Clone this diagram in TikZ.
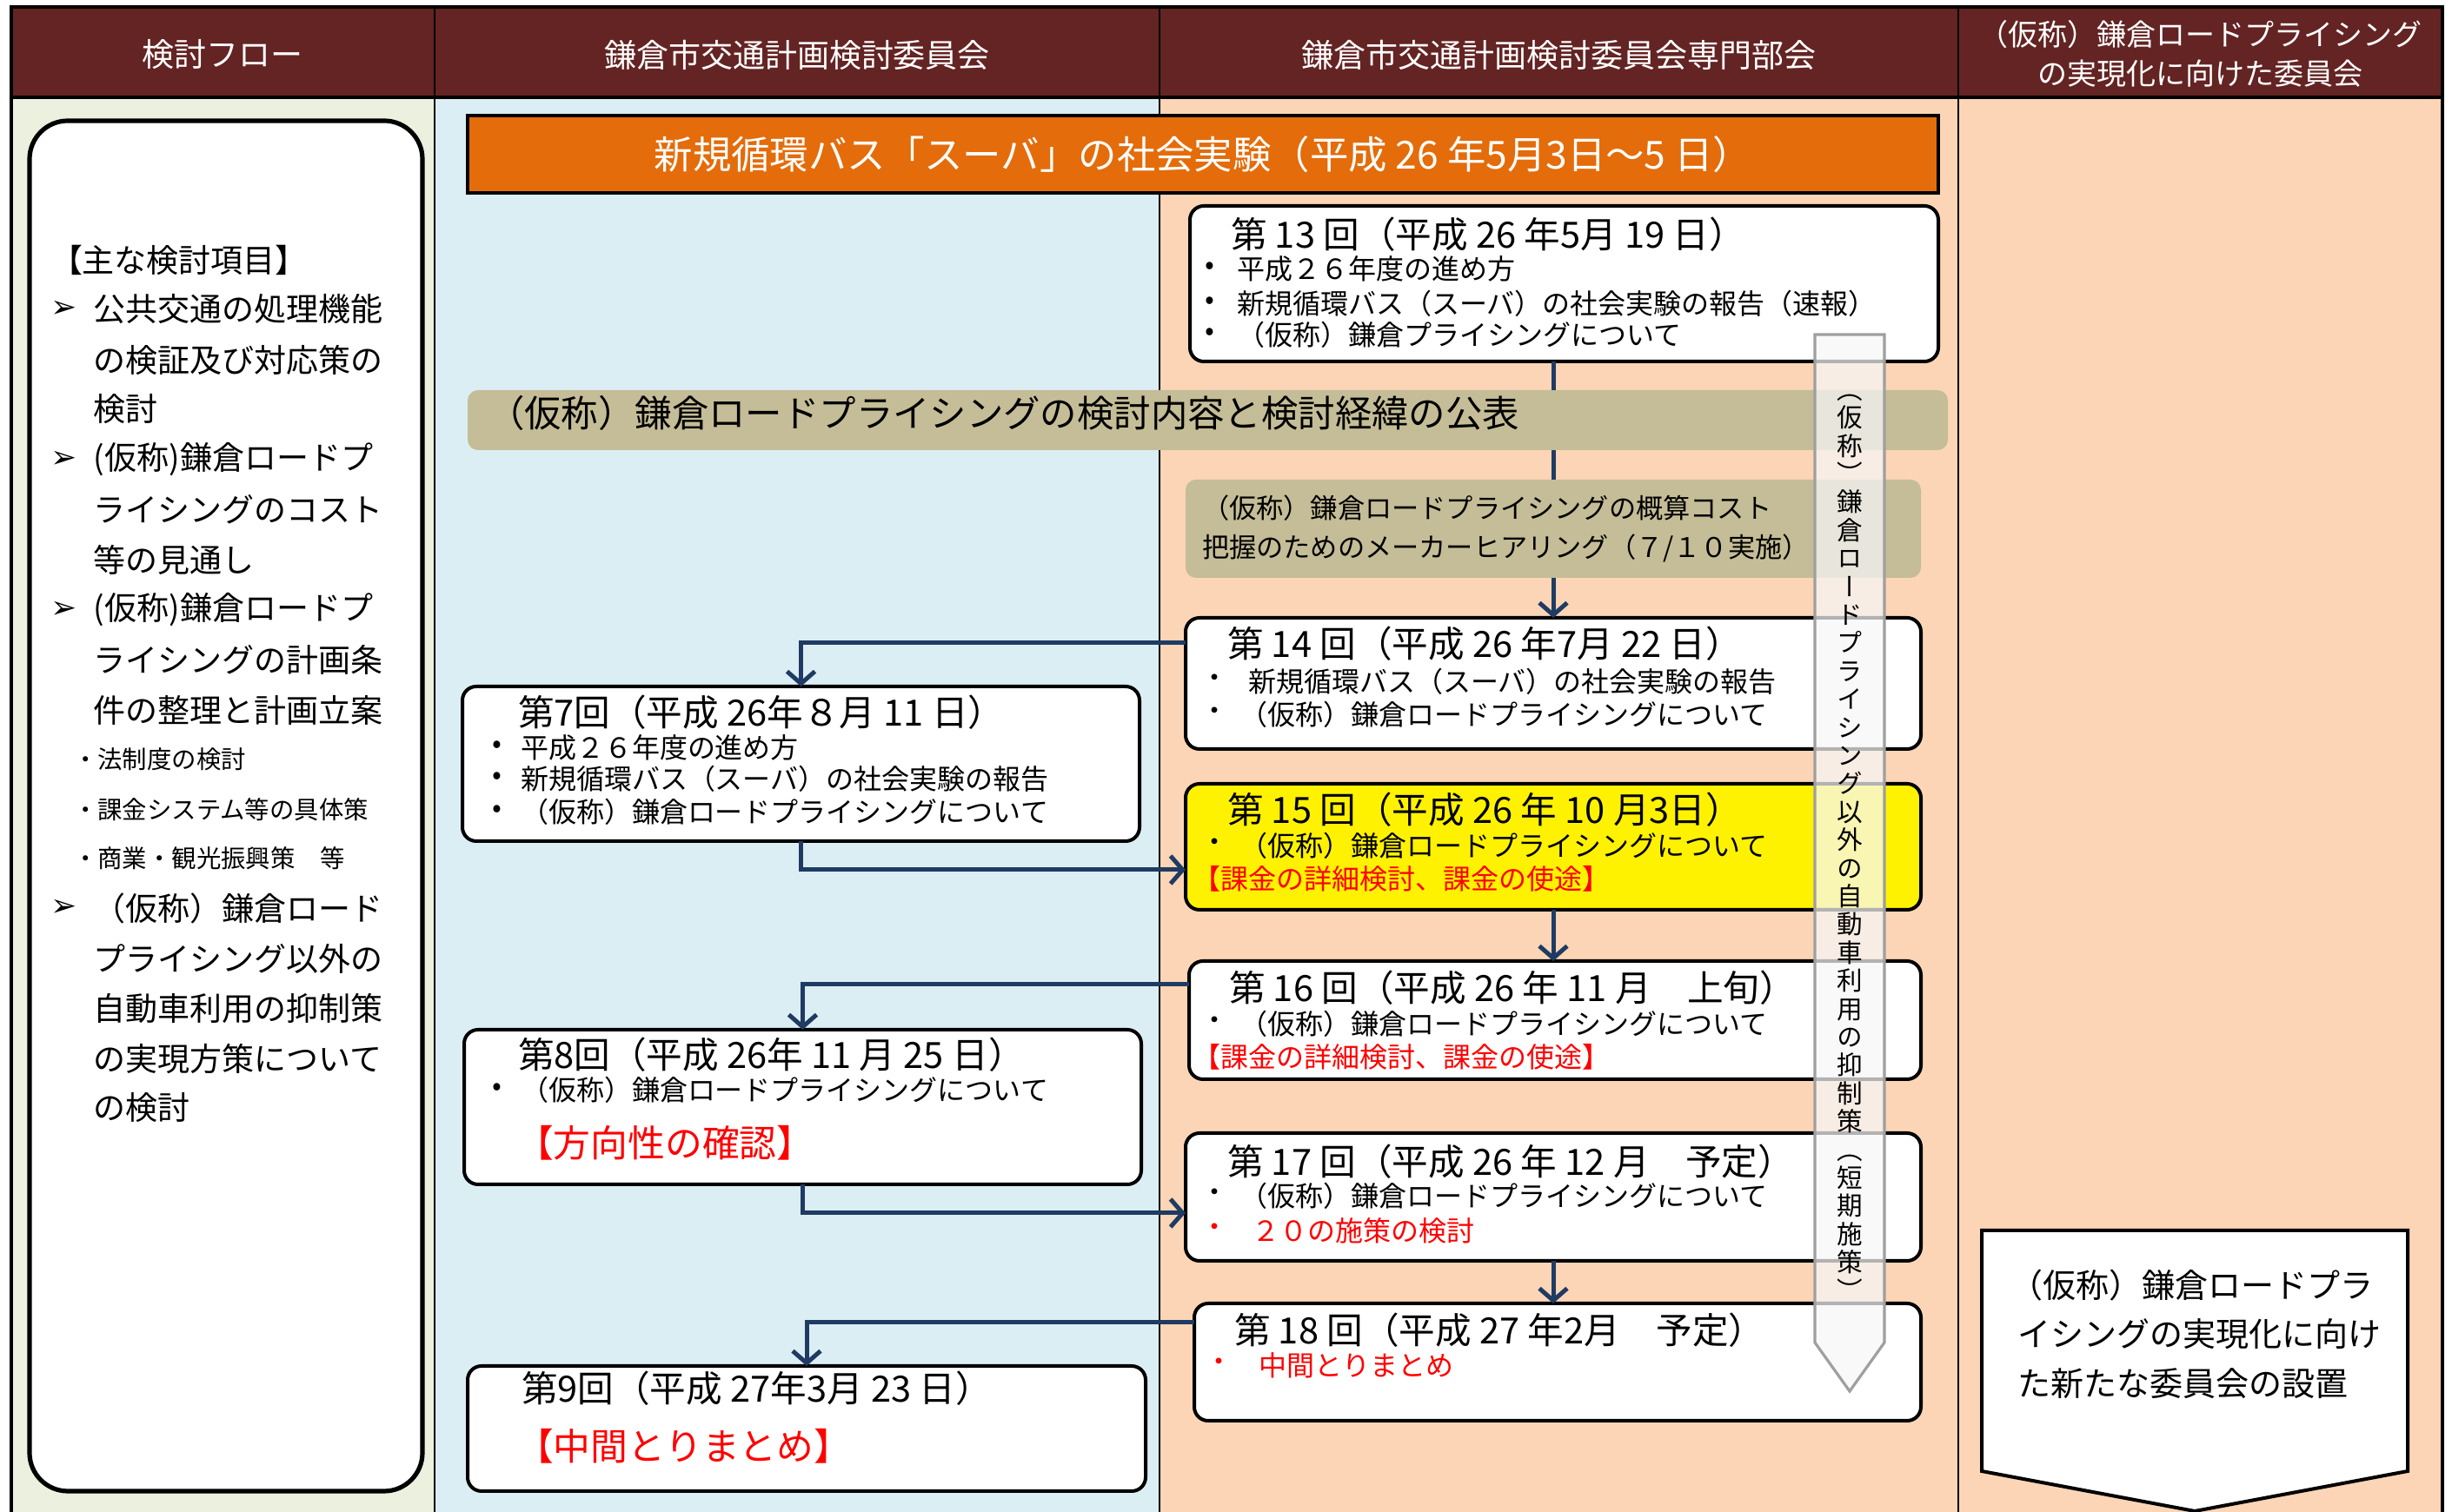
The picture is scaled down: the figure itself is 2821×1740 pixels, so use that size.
\documentclass[tikz,border=0pt]{standalone}
\usepackage{fontspec}
\setmainfont{Noto Sans CJK JP}
\newfontfamily\vfont{Noto Sans CJK JP}[RawFeature=+vert]
\newfontfamily\symfont{DejaVu Sans}
\usetikzlibrary{arrows.meta,calc}
\definecolor{hdr}{HTML}{632423}
\definecolor{cgreen}{HTML}{EBF1DE}
\definecolor{cblue}{HTML}{DBEEF4}
\definecolor{cpeach}{HTML}{FBD5B5}
\definecolor{orng}{HTML}{E46C0A}
\definecolor{tan}{HTML}{C4BD97}
\definecolor{navy}{HTML}{1F3B63}
\definecolor{redt}{HTML}{FF0000}
\newcommand\mkbox[7]{\node[#6, inner sep=0pt, outer sep=0pt, minimum width={(#4-#2)*0.25}, minimum height={(#5-#3)*0.25}] (#1) at ({(#2+#4)/2},{(#3+#5)/2}) {#7};}
\begin{document}
\begin{tikzpicture}[x=0.25pt,y=-0.25pt,
  txt/.style={inner sep=0pt, outer sep=0pt, anchor=west},
  hd/.style={text=white, font=\fontsize{9.25}{11.5}\selectfont, align=center, inner sep=0pt},
  ttl/.style={txt, font=\fontsize{10.4}{11}\selectfont},
  itm/.style={txt, font=\fontsize{8}{9}\selectfont},
  bigred/.style={txt, text=redt, font=\fontsize{10.7}{12}\selectfont},
  redtxt/.style={text=redt},
  lt/.style={txt, font=\fontsize{9.25}{10}\selectfont},
  lsub/.style={txt, font=\fontsize{7.1}{8}\selectfont},
  arw/.style={inner sep=0pt, font=\symfont\fontsize{9}{10}\selectfont},
  rbox/.style={draw=black, line width=1pt, fill=white, rounded corners=4pt},
  tanbox/.style={fill=tan, rounded corners=3pt},
  cline/.style={draw=navy, line width=1.25pt},
  conn/.style={cline, -{Straight Barb[length=3.5pt,width=8pt,line width=1.25pt]}}
]
\useasboundingbox (0,0) rectangle (2821,1740);
% backgrounds
\fill[cgreen] (13,112) rectangle (500,1740);
\fill[cblue] (500,112) rectangle (1334,1740);
\fill[cpeach] (1334,112) rectangle (2810,1740);
\fill[hdr] (13,8) rectangle (2810,112);
\draw[line width=0.5pt] (500,8) -- (500,1740);
\draw[line width=0.5pt] (1334,8) -- (1334,1740);
\draw[line width=0.5pt] (2253,8) -- (2253,1740);
\draw[line width=0.9pt] (13,1740) -- (13,8) -- (2810,8) -- (2810,1740);
\draw[line width=1pt] (13,112) -- (2810,112);
% headers
\node[hd] (h1) at (256,63) {検討フロー};
\node[hd] (h2) at (917,63) {鎌倉市交通計画検討委員会};
\node[hd] (h3) at (1793,63) {鎌倉市交通計画検討委員会専門部会};
\node[hd, font=\fontsize{8.5}{11.2}\selectfont] (h4) at (2531,62) {（仮称）鎌倉ロードプライシング\\の実現化に向けた委員会};
% left box
\mkbox{lbox}{34}{139}{486}{1716}{draw=black, fill=white, line width=1.3pt, rounded corners=11pt}{}
\node[lt] (L0) at (58,299) {【主な検討項目】};
\foreach \yy/\ss in {356/公共交通の処理機能,414/の検証及び対応策の,471/検討,529/(仮称)鎌倉ロードプ,586/ライシングのコスト,644/等の見通し,702/(仮称)鎌倉ロードプ,759/ライシングの計画条,817/件の整理と計画立案,1045/（仮称）鎌倉ロード,1103/プライシング以外の,1160/自動車利用の抑制策,1218/の実現方策について,1275/の検討}
  \node[lt] (L\yy) at (108,\yy) {\ss};
\foreach \yy in {356,529,702,1045}
  \node[arw] (A\yy) at (74,\yy) {➢};
\node[lsub] (S1) at (84,874) {・法制度の検討};
\node[lsub] (S2) at (84,932) {・課金システム等の具体策};
\node[lsub] (S3) at (84,988) {・商業・観光振興策　等};
% orange bar
\mkbox{orange}{538}{133}{2230}{222}{fill=orng, draw=black, line width=1.2pt, text=white, font=\fontsize{11.1}{12}\selectfont}{新規循環バス「スーバ」の社会実験（平成 26 年5月3日～5 日）}
% boxes
\mkbox{b13}{1369}{237}{2230}{416}{rbox}{}
\mkbox{gai}{1364}{552}{2210}{665}{tanbox}{}
\mkbox{b14}{1364}{711}{2210}{862}{rbox}{}
\draw[cline] (b13.south -| b14.north) -- (gai.north -| b14.north);
\mkbox{band}{538}{449}{2241}{518}{tanbox}{}
\node[txt, font=\fontsize{10.6}{12}\selectfont] (bandt) at (561,475) {（仮称）鎌倉ロードプライシングの検討内容と検討経緯の公表};
% box 13
\node[ttl] (t13) at (1416,270) {第 13 回（平成 26 年5月 19 日）};
\node[itm] (d13a) at (1386,309) {•}; \node[itm] (i13a) at (1423,309) {平成２６年度の進め方};
\node[itm] (d13b) at (1386,349) {•}; \node[itm] (i13b) at (1423,349) {新規循環バス（スーバ）の社会実験の報告（速報）};
\node[itm] (d13c) at (1386,385) {•}; \node[itm] (i13c) at (1423,385) {（仮称）鎌倉プライシングについて};
% gaisan
\node[itm, font=\fontsize{7.8}{9}\selectfont] (g1) at (1383,585) {（仮称）鎌倉ロードプライシングの概算コスト};
\node[itm, font=\fontsize{7.8}{9}\selectfont] (g2) at (1383,631) {把握のためのメーカーヒアリング（７/１０実施）};
% box 14
\node[ttl] (t14) at (1412,741) {第 14 回（平成 26 年7月 22 日）};
\node[itm] (d14a) at (1381,784) {・}; \node[itm] (i14a) at (1436,784) {新規循環バス（スーバ）の社会実験の報告};
\node[itm] (d14b) at (1381,822) {・}; \node[itm] (i14b) at (1426,822) {（仮称）鎌倉ロードプライシングについて};
% box 15
\mkbox{b15}{1364}{902}{2210}{1047}{rbox, fill=yellow}{}
\node[ttl] (t15) at (1412,932) {第 15 回（平成 26 年 10 月3日）};
\node[itm] (d15a) at (1381,973) {・}; \node[itm] (i15a) at (1426,973) {（仮称）鎌倉ロードプライシングについて};
\node[itm, redtxt] (r15) at (1372,1011) {【課金の詳細検討、課金の使途】};
% box 16
\mkbox{b16}{1368}{1106}{2210}{1242}{rbox}{}
\node[ttl] (t16) at (1414,1137) {第 16 回（平成 26 年 11 月　上旬）};
\node[itm] (d16a) at (1381,1178) {・}; \node[itm] (i16a) at (1426,1178) {（仮称）鎌倉ロードプライシングについて};
\node[itm, redtxt] (r16) at (1372,1216) {【課金の詳細検討、課金の使途】};
% box 17
\mkbox{b17}{1364}{1304}{2210}{1451}{rbox}{}
\node[ttl] (t17) at (1412,1337) {第 17 回（平成 26 年 12 月　予定）};
\node[itm] (d17a) at (1381,1376) {・}; \node[itm] (i17a) at (1426,1376) {（仮称）鎌倉ロードプライシングについて};
\node[itm, redtxt] (d17b) at (1381,1416) {・}; \node[itm, redtxt] (r17) at (1440,1416) {２０の施策の検討};
% box 18
\mkbox{b18}{1374}{1500}{2210}{1635}{rbox}{}
\node[ttl] (t18) at (1420,1531) {第 18 回（平成 27 年2月　予定）};
\node[itm, redtxt] (d18a) at (1386,1571) {・}; \node[itm, redtxt] (r18) at (1448,1571) {中間とりまとめ};
% box 7
\mkbox{b7}{532}{790}{1311}{968}{rbox}{}
\node[ttl] (t7) at (596,820) {第7回（平成 26年８月 11 日）};
\node[itm] (d7a) at (566,860) {•}; \node[itm] (i7a) at (599,860) {平成２６年度の進め方};
\node[itm] (d7b) at (566,896) {•}; \node[itm] (i7b) at (599,896) {新規循環バス（スーバ）の社会実験の報告};
\node[itm] (d7c) at (566,934) {•}; \node[itm] (i7c) at (599,934) {（仮称）鎌倉ロードプライシングについて};
% box 8
\mkbox{b8}{534}{1185}{1313}{1363}{rbox}{}
\node[ttl] (t8) at (596,1214) {第8回（平成 26年 11 月 25 日）};
\node[itm] (d8a) at (566,1254) {•}; \node[itm] (i8a) at (599,1254) {（仮称）鎌倉ロードプライシングについて};
\node[bigred] (r8) at (594,1315) {【方向性の確認】};
% box 9
\mkbox{b9}{538}{1572}{1318}{1716}{rbox}{}
\node[ttl] (t9) at (600,1598) {第9回（平成 27年3月 23 日）};
\node[bigred] (r9) at (594,1664) {【中間とりまとめ】};
% connectors
\draw[cline] (band.south -| b14.north) -- (gai.north -| b14.north);
\draw[cline] (b13.south -| b14.north) -- (band.north -| b14.north);
\draw[conn] (gai.south -| b14.north) -- (b14.north);
\draw[conn] ($(b14.north west)+(0,29)$) -| (b7.north);
\draw[conn] (b7.south) |- ($(b15.north west)+(0,99)$);
\draw[conn] (b15.south -| b14.north) -- (b16.north -| b14.north);
\draw[conn] ($(b16.north west)+(0,27)$) -| (b8.north);
\draw[conn] (b8.south) |- ($(b17.north west)+(0,92)$);
\draw[conn] (b17.south -| b14.north) -- (b18.north -| b14.north);
\draw[conn] ($(b18.north west)+(0,22)$) -| (b9.north);
% block arrow
\draw[draw=gray!75, line width=0.8pt, fill=gray!6, fill opacity=0.72] (2088,385) -- (2168,385) -- (2168,1545) -- (2128,1601) -- (2088,1545) -- cycle;
\node[inner sep=0pt, align=center, font=\vfont\fontsize{7.4}{8.1}\selectfont] (vt) at (2128,975) {（\\仮\\称\\）\\鎌\\倉\\ロ\\ー\\ド\\プ\\ラ\\イ\\シ\\ン\\グ\\以\\外\\の\\自\\動\\車\\利\\用\\の\\抑\\制\\策\\（\\短\\期\\施\\策\\）};
% pentagon
\draw[draw=black, line width=1pt, fill=white] (2280,1416) -- (2770,1416) -- (2770,1693) -- (2525,1739) -- (2280,1693) -- cycle;
\node[txt, font=\fontsize{9.5}{11}\selectfont] (p1) at (2312,1479) {（仮称）鎌倉ロードプラ};
\node[txt, font=\fontsize{9.5}{11}\selectfont] (p2) at (2321,1535) {イシングの実現化に向け};
\node[txt, font=\fontsize{9.5}{11}\selectfont] (p3) at (2321,1592) {た新たな委員会の設置};
\end{tikzpicture}
\end{document}
